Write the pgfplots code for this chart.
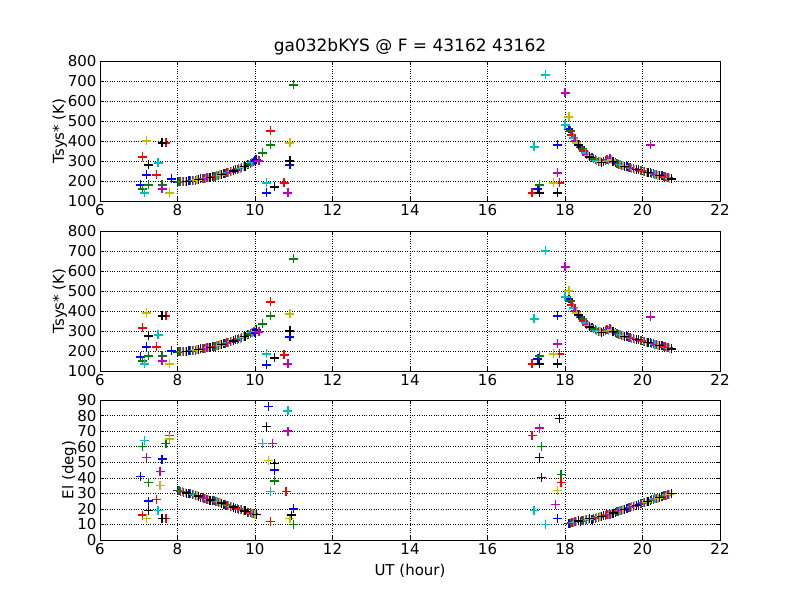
\documentclass[border=0pt]{standalone}
\usepackage{pgfplots}
\pgfplotsset{compat=1.18}
\usepackage{pgfplotstable}
\usepackage{fontspec}
\setmainfont{DejaVu Sans}
\definecolor{mg}{rgb}{0,0.5,0}
\definecolor{mc}{rgb}{0,0.75,0.75}
\definecolor{mm}{rgb}{0.75,0,0.75}
\definecolor{my}{rgb}{0.75,0.75,0}
\pgfplotstableread{
x y
8.0 195
8.3 200
8.6 210
8.9 220
9.2 235
9.5 255
9.8 280
18.1 460
18.4 370
18.7 315
19.0 295
19.3 290
19.6 270
19.9 255
20.2 240
20.5 225
}\Tb
\pgfplotstableread{
x y
8.04 195
8.34 201
8.64 211
8.94 222
9.24 237
9.54 258
9.84 284
18.14 450
18.44 360
18.74 310
19.04 300
19.34 285
19.64 268
19.94 252
20.24 238
20.54 222
}\Tg
\pgfplotstableread{
x y
8.08 196
8.38 202
8.68 212
8.98 224
9.28 240
9.58 261
9.88 288
18.18 430
18.48 350
18.78 305
19.08 305
19.38 282
19.68 265
19.98 250
20.28 236
20.58 220
}\Tr
\pgfplotstableread{
x y
8.12 196
8.42 203
8.72 214
9.02 226
9.32 242
9.62 264
9.92 292
18.22 415
18.52 340
18.82 300
19.12 300
19.42 280
19.72 262
20.02 248
20.32 233
20.62 218
}\Tc
\pgfplotstableread{
x y
8.16 197
8.46 204
8.76 215
9.06 228
9.36 245
9.66 267
9.96 296
18.26 400
18.56 330
18.86 298
19.16 310
19.46 278
19.76 260
20.06 246
20.36 230
20.66 215
}\Tm
\pgfplotstableread{
x y
8.2 198
8.5 205
8.8 216
9.1 230
9.4 248
9.7 270
10.0 300
18.3 390
18.6 325
18.9 296
19.2 305
19.5 275
19.8 258
20.1 244
20.4 228
20.7 212
}\Ty
\pgfplotstableread{
x y
8.24 199
8.54 207
8.84 218
9.14 232
9.44 250
9.74 273
10.04 305
18.34 380
18.64 320
18.94 294
19.24 298
19.54 272
19.84 256
20.14 242
20.44 226
20.74 210
}\Tk
\pgfplotstableread{
x y
8.0 32
8.3 30
8.6 27.5
8.9 25.5
9.2 23
9.5 20.5
9.8 18
18.1 10.5
18.4 12
18.7 13.5
19.0 15.5
19.3 18
19.6 20.5
19.9 23
20.2 25.5
20.5 28
}\Eb
\pgfplotstableread{
x y
8.04 31.7
8.34 29.7
8.64 27.2
8.94 25.2
9.24 22.7
9.54 20.2
9.84 17.7
18.14 10.8
18.44 12.3
18.74 13.8
19.04 15.8
19.34 18.3
19.64 20.8
19.94 23.3
20.24 25.8
20.54 28.3
}\Eg
\pgfplotstableread{
x y
8.08 31.4
8.38 29.4
8.68 26.9
8.98 24.9
9.28 22.4
9.58 19.9
9.88 17.4
18.18 11.1
18.48 12.6
18.78 14.1
19.08 16.1
19.38 18.6
19.68 21.1
19.98 23.6
20.28 26.1
20.58 28.6
}\Er
\pgfplotstableread{
x y
8.12 31.1
8.42 29.1
8.72 26.6
9.02 24.6
9.32 22.1
9.62 19.6
9.92 17.1
18.22 11.4
18.52 12.9
18.82 14.4
19.12 16.4
19.42 18.9
19.72 21.4
20.02 23.9
20.32 26.4
20.62 28.9
}\Ec
\pgfplotstableread{
x y
8.16 30.8
8.46 28.8
8.76 26.3
9.06 24.3
9.36 21.8
9.66 19.3
9.96 16.8
18.26 11.7
18.56 13.2
18.86 14.7
19.16 16.7
19.46 19.2
19.76 21.7
20.06 24.2
20.36 26.7
20.66 29.2
}\Em
\pgfplotstableread{
x y
8.2 30.5
8.5 28.5
8.8 26
9.1 24
9.4 21.5
9.7 19
10.0 16.5
18.3 12
18.6 13.5
18.9 15
19.2 17
19.5 19.5
19.8 22
20.1 24.5
20.4 27
20.7 29.5
}\Ey
\pgfplotstableread{
x y
8.24 30.2
8.54 28.2
8.84 25.7
9.14 23.7
9.44 21.2
9.74 18.7
10.04 16.2
18.34 12.3
18.64 13.8
18.94 15.3
19.24 17.3
19.54 19.8
19.84 22.3
20.14 24.8
20.44 27.3
20.74 29.8
}\Ek
\pgfplotsset{
  every axis/.style={scale only axis, width=620pt, height=140pt, anchor=south west,
    xmin=6, xmax=22, xtick={6,8,...,22}, grid=major,
    grid style={black, dotted, line width=0.5pt},
    tick align=inside, tick style={black, line width=0.5pt},
    ticklabel style={font=\fontsize{15}{17}\selectfont},
    label style={font=\fontsize{15}{17}\selectfont},
    /pgf/number format/assume math mode=true,
    axis line style={line width=0.8pt}},
  pm/.style={only marks, mark=+, mark size=4.5pt, line width=1.3pt, color=#1},
}
\begin{document}
\begin{tikzpicture}[x=1pt,y=1pt]
\useasboundingbox (0,0) rectangle (800,600);
\begin{axis}[at={(100pt,399pt)}, ymin=100, ymax=800, ytick={100,200,...,800},
  ylabel={Tsys* (K)}, ylabel style={yshift=-6pt},
  title={ga032bKYS @ F = 43162 43162}, title style={font=\fontsize{17}{19}\selectfont, yshift=-4pt}]
\addplot[pm=blue] table{\Tb};
\addplot[pm=mg] table{\Tg};
\addplot[pm=red] table{\Tr};
\addplot[pm=mc] table{\Tc};
\addplot[pm=mm] table{\Tm};
\addplot[pm=my] table{\Ty};
\addplot[pm=black] table{\Tk};
\addplot[pm=blue] coordinates {(7.05,180)(7.2,230)(7.85,210)(10.0,300)(10.3,140)(10.9,280)(17.8,380)(17.3,160)};
\addplot[pm=mg] coordinates {(7.1,160)(7.25,180)(7.6,180)(10.4,380)(11.0,680)(17.35,180)(10.2,340)};
\addplot[pm=red] coordinates {(7.1,320)(7.45,230)(7.7,390)(10.4,450)(10.75,190)(17.15,140)(17.85,190)};
\addplot[pm=mc] coordinates {(7.15,140)(7.5,290)(10.3,190)(17.2,370)(17.5,730)(18.0,480)};
\addplot[pm=mm] coordinates {(7.6,160)(10.1,300)(10.85,140)(17.8,240)(18.0,640)(20.2,380)};
\addplot[pm=my] coordinates {(7.2,400)(7.8,140)(10.9,390)(17.7,190)(18.1,520)};
\addplot[pm=black] coordinates {(7.25,280)(7.6,390)(10.5,170)(10.9,300)(17.35,140)(17.8,140)};
\end{axis}
\begin{axis}[at={(100pt,229pt)}, ymin=100, ymax=800, ytick={100,200,...,800},
  ylabel={Tsys* (K)}, ylabel style={yshift=-6pt}]
\addplot[pm=blue] table{\Tb};
\addplot[pm=mg] table{\Tg};
\addplot[pm=red] table{\Tr};
\addplot[pm=mc] table{\Tc};
\addplot[pm=mm] table{\Tm};
\addplot[pm=my] table{\Ty};
\addplot[pm=black] table{\Tk};
\addplot[pm=blue] coordinates {(7.05,170)(7.2,220)(7.85,200)(10.0,290)(10.3,130)(10.9,270)(17.8,375)(17.3,160)};
\addplot[pm=mg] coordinates {(7.1,150)(7.25,175)(7.6,175)(10.4,375)(11.0,660)(17.35,175)(10.2,335)};
\addplot[pm=red] coordinates {(7.1,315)(7.45,220)(7.7,375)(10.4,445)(10.75,180)(17.15,135)(17.85,185)};
\addplot[pm=mc] coordinates {(7.15,135)(7.5,280)(10.3,185)(17.2,360)(17.5,700)(18.0,470)};
\addplot[pm=mm] coordinates {(7.6,150)(10.1,295)(10.85,135)(17.8,235)(18.0,620)(20.2,370)};
\addplot[pm=my] coordinates {(7.2,390)(7.8,135)(10.9,385)(17.7,185)(18.1,500)};
\addplot[pm=black] coordinates {(7.25,275)(7.6,375)(10.5,165)(10.9,300)(17.35,135)(17.8,135)};
\end{axis}
\begin{axis}[at={(100pt,60pt)}, ymin=0, ymax=90, ytick={0,10,...,90},
  ylabel={El (deg)}, ylabel style={yshift=-6pt}, xlabel={UT (hour)}, xlabel style={yshift=-2pt}]
\addplot[pm=blue] table{\Eb};
\addplot[pm=mg] table{\Eg};
\addplot[pm=red] table{\Er};
\addplot[pm=mc] table{\Ec};
\addplot[pm=mm] table{\Em};
\addplot[pm=my] table{\Ey};
\addplot[pm=black] table{\Ek};
\addplot[pm=blue] coordinates {(7.05,41)(7.25,25)(7.6,52)(10.35,86)(10.5,45)(11.0,20)(17.4,40)(17.8,14)};
\addplot[pm=mg] coordinates {(7.1,60)(7.25,37)(7.7,62)(10.5,38)(11.0,10)(17.4,60)(17.9,42)};
\addplot[pm=red] coordinates {(7.1,16)(7.45,26)(7.7,14)(10.4,12)(10.8,31)(17.15,67)(17.9,37)};
\addplot[pm=mc] coordinates {(7.15,64)(7.5,19)(10.2,62)(10.4,31)(10.85,83)(17.2,19)(17.5,10)};
\addplot[pm=mm] coordinates {(7.2,53)(7.55,44)(7.8,67)(10.45,62)(10.85,70)(17.35,72)(17.75,23)};
\addplot[pm=my] coordinates {(7.2,14)(7.55,35)(7.8,65)(10.35,51)(10.9,14)(17.8,32)};
\addplot[pm=black] coordinates {(7.25,19)(7.6,14)(10.3,73)(10.5,49)(10.95,16)(17.35,53)(17.85,78)};
\end{axis}
\end{tikzpicture}
\end{document}
